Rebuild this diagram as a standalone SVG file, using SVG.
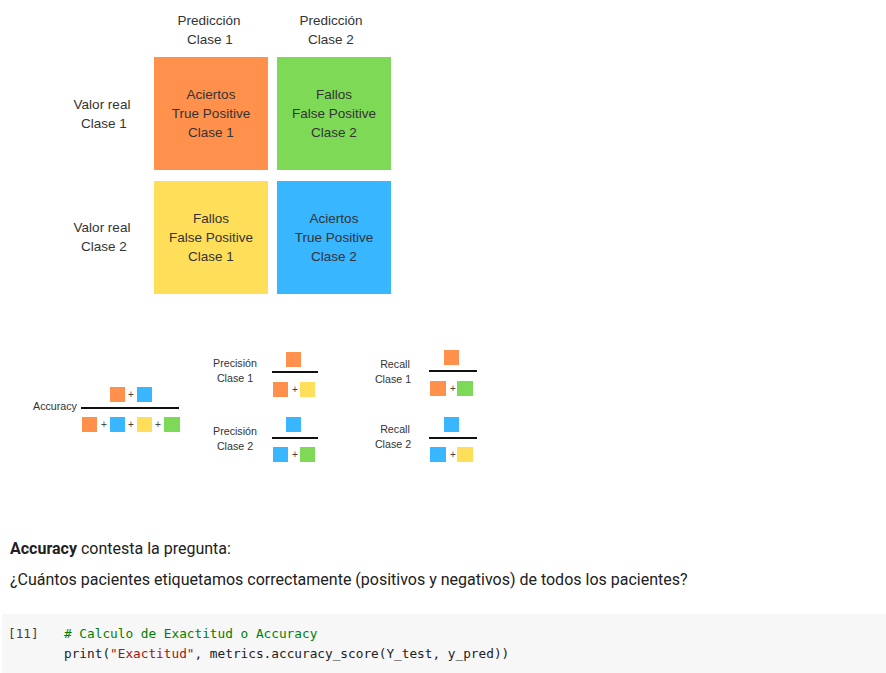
<svg xmlns="http://www.w3.org/2000/svg" width="886" height="673" viewBox="0 0 886 673">
<style>
  .lbl { font-family: "Liberation Sans", Arial, sans-serif; font-size: 13.5px; fill: #333; text-anchor: middle; }
  .sm { font-family: "Liberation Sans", Arial, sans-serif; font-size: 10.7px; fill: #333; text-anchor: middle; }
  .pl { font-family: "Liberation Sans", Arial, sans-serif; font-size: 10px; fill: #444; text-anchor: middle; }
  .or { fill: #FF914D; }
  .gr { fill: #7ED957; }
  .ye { fill: #FFDE59; }
  .bl { fill: #38B6FF; }
  .bar { stroke: #111; stroke-width: 2.2; }
  .body { font-family: Roboto, "Liberation Sans", sans-serif; font-size: 16px; fill: #212121; }
  .code { font-family: "DejaVu Sans Mono", "Liberation Mono", monospace; font-size: 12.75px; fill: #212121; }
</style>
<rect width="886" height="673" fill="#ffffff"/>

<g id="header-labels">
  <text class="lbl" x="209" y="25">Predicción</text>
  <text class="lbl" x="210" y="44">Clase 1</text>
  <text class="lbl" x="331" y="25">Predicción</text>
  <text class="lbl" x="331" y="44">Clase 2</text>
  <text class="lbl" x="102" y="109">Valor real</text>
  <text class="lbl" x="104" y="128">Clase 1</text>
  <text class="lbl" x="102" y="232">Valor real</text>
  <text class="lbl" x="104" y="251">Clase 2</text>
</g>

<g id="tp1">
  <rect class="or" x="154" y="57" width="114" height="113"/>
  <text class="lbl" x="211" y="99">Aciertos</text>
  <text class="lbl" x="211" y="118">True Positive</text>
  <text class="lbl" x="211" y="137">Clase 1</text>
</g>
<g id="fp2">
  <rect class="gr" x="277" y="57" width="114" height="113"/>
  <text class="lbl" x="334" y="99">Fallos</text>
  <text class="lbl" x="334" y="118">False Positive</text>
  <text class="lbl" x="334" y="137">Clase 2</text>
</g>
<g id="fp1">
  <rect class="ye" x="154" y="181" width="114" height="113"/>
  <text class="lbl" x="211" y="223">Fallos</text>
  <text class="lbl" x="211" y="242">False Positive</text>
  <text class="lbl" x="211" y="261">Clase 1</text>
</g>
<g id="tp2">
  <rect class="bl" x="277" y="181" width="114" height="113"/>
  <text class="lbl" x="334" y="223">Aciertos</text>
  <text class="lbl" x="334" y="242">True Positive</text>
  <text class="lbl" x="334" y="261">Clase 2</text>
</g>

<g id="accuracy">
  <text class="sm" x="55" y="410">Accuracy</text>
  <rect class="or" x="110" y="387" width="15" height="15"/>
  <text class="pl" x="131" y="398">+</text>
  <rect class="bl" x="137" y="387" width="15" height="15"/>
  <line class="bar" x1="81" y1="408" x2="179" y2="408"/>
  <rect class="or" x="82" y="417" width="15" height="15"/>
  <text class="pl" x="104" y="428">+</text>
  <rect class="bl" x="110" y="417" width="15" height="15"/>
  <text class="pl" x="131" y="428">+</text>
  <rect class="ye" x="137" y="417" width="15" height="15"/>
  <text class="pl" x="158" y="428">+</text>
  <rect class="gr" x="164" y="417" width="16" height="15"/>
</g>

<g id="precision1">
  <text class="sm" x="235" y="367">Precisión</text>
  <text class="sm" x="235" y="382">Clase 1</text>
  <rect class="or" x="286" y="352" width="15" height="15"/>
  <line class="bar" x1="272" y1="372" x2="318" y2="372"/>
  <rect class="or" x="273" y="382" width="15" height="15"/>
  <text class="pl" x="295" y="393">+</text>
  <rect class="ye" x="300" y="382" width="15" height="15"/>
</g>
<g id="precision2">
  <text class="sm" x="235" y="435">Precisión</text>
  <text class="sm" x="235" y="450">Clase 2</text>
  <rect class="bl" x="286" y="417" width="15" height="15"/>
  <line class="bar" x1="272" y1="438" x2="318" y2="438"/>
  <rect class="bl" x="273" y="447" width="15" height="15"/>
  <text class="pl" x="295" y="458">+</text>
  <rect class="gr" x="300" y="447" width="15" height="15"/>
</g>
<g id="recall1">
  <text class="sm" x="395" y="368">Recall</text>
  <text class="sm" x="393" y="383">Clase 1</text>
  <rect class="or" x="444" y="350" width="15" height="15"/>
  <line class="bar" x1="429" y1="371" x2="477" y2="371"/>
  <rect class="or" x="430" y="381" width="16" height="15"/>
  <text class="pl" x="453" y="392">+</text>
  <rect class="gr" x="457" y="381" width="16" height="15"/>
</g>
<g id="recall2">
  <text class="sm" x="395" y="433">Recall</text>
  <text class="sm" x="393" y="448">Clase 2</text>
  <rect class="bl" x="444" y="417" width="15" height="15"/>
  <line class="bar" x1="429" y1="438" x2="477" y2="438"/>
  <rect class="bl" x="430" y="447" width="16" height="15"/>
  <text class="pl" x="453" y="458">+</text>
  <rect class="ye" x="457" y="447" width="16" height="15"/>
</g>

<g id="connectors"></g>

<g id="prose">
  <text class="body" x="10" y="554"><tspan font-weight="bold">Accuracy</tspan> contesta la pregunta:</text>
  <text class="body" x="10" y="585">¿Cuántos pacientes etiquetamos correctamente (positivos y negativos) de todos los pacientes?</text>
</g>

<g id="code-cell">
  <rect x="2" y="614" width="884" height="59" fill="#f7f7f7"/>
  <text class="code" x="8" y="638" style="fill:#424242">[11]</text>
  <text class="code" x="64" y="638" style="fill:#008000"># Calculo de Exactitud o Accuracy</text>
  <text class="code" x="64" y="658">print(<tspan style="fill:#a31515">"Exactitud"</tspan>, metrics.accuracy_score(Y_test, y_pred))</text>
</g>
</svg>
